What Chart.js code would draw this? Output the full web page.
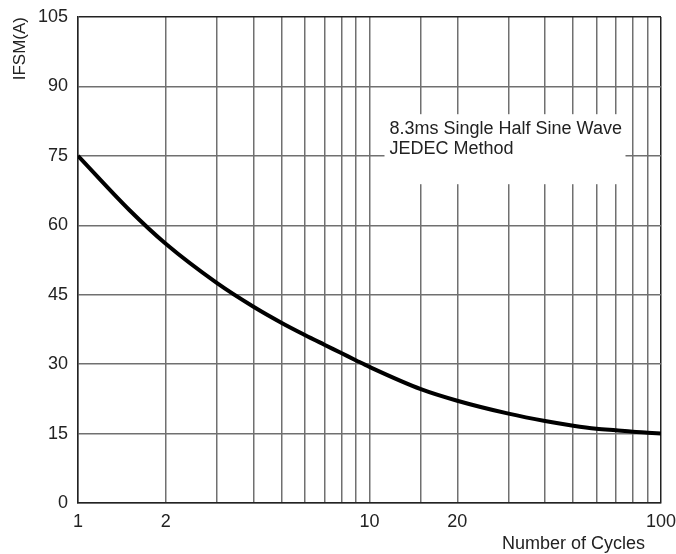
<!DOCTYPE html>
<html>
<head>
<meta charset="utf-8">
<script src="https://cdn.jsdelivr.net/npm/chart.js@4.4.1/dist/chart.umd.min.js"></script>
<style>
  html, body { margin: 0; padding: 0; background: #fff; }
  #wrap { width: 676px; height: 554px; }
</style>
</head>
<body>
<div id="wrap"><canvas id="surgeChart"></canvas></div>
<script>
// values
var cycles = [1, 1.5, 2, 3, 4, 5, 6, 7, 8, 9, 10, 15, 20, 30, 40, 50, 60, 70, 80, 90, 100];
var ifsm = [75, 63.3, 56, 47.5, 42.4, 38.9, 36.3, 34.2, 32.4, 30.8, 29.4, 24.6, 22.1, 19.3, 17.7, 16.7, 16.05, 15.7, 15.4, 15.2, 15];
var labeledCycles = [1, 2, 10, 20, 100];
var noteLines = ['8.3ms Single Half Sine Wave', 'JEDEC Method'];
var xTitle = 'Number of Cycles';

var FONT = "'Liberation Sans', Arial, sans-serif";

// white note box that breaks the grid, like on the datasheet
var notePlugin = {
    id: 'note',
    afterDatasetsDraw: function (chart) {
        var c = chart.ctx;
        var x = chart.scales.x, y = chart.scales.y;
        var left = x.getPixelForValue(10) + 15;
        var top = y.getPixelForValue(84);
        c.save();
        c.fillStyle = '#fff';
        c.fillRect(left, top, 241, 70);
        c.fillStyle = '#222';
        c.font = '18px ' + FONT;
        c.textBaseline = 'alphabetic';
        c.fillText(noteLines[0], left + 5, top + 20);
        c.fillText(noteLines[1], left + 5, top + 40);
        // x axis title sits a bit left of the frame's right edge
        c.textAlign = 'right';
        c.textBaseline = 'middle';
        c.fillText(xTitle, chart.chartArea.right - 16, chart.height - 10);
        c.restore();
    }
};

var ctx = document.getElementById('surgeChart').getContext('2d');
var surgeChart = new Chart(ctx, {
    type: 'line',
    data: {
        labels: cycles,
        datasets: [{
            label: 'IFSM',
            data: cycles.map(function (c, i) { return { x: c, y: ifsm[i] }; }),
            borderColor: '#000',
            borderWidth: 4,
            pointRadius: 0,
            cubicInterpolationMode: 'monotone',
            fill: false
        }]
    },
    options: {
        responsive: true,
        maintainAspectRatio: false,
        animation: false,
        layout: { padding: { top: 17, right: 15, left: 0, bottom: 0 } },
        plugins: {
            legend: { display: false },
            tooltip: { enabled: false }
        },
        scales: {
            x: {
                type: 'logarithmic',
                min: 1,
                max: 100,
                afterFit: function (scale) {
                    scale.height = 51;
                    scale.paddingLeft = 0;
                    scale.paddingRight = 0;
                },
                grid: {
                    drawTicks: false,
                    color: function (c) { return c.tick && c.tick.value === 100 ? '#222' : '#707070'; },
                    lineWidth: 1.5
                },
                border: { color: '#222', width: 1.5 },
                ticks: {
                    autoSkip: false,
                    maxRotation: 0,
                    padding: 8,
                    color: '#222',
                    font: { family: FONT, size: 18 },
                    callback: function (value) {
                        return labeledCycles.indexOf(value) >= 0 ? String(value) : '';
                    }
                }
            },
            y: {
                min: 0,
                max: 105,
                afterFit: function (scale) {
                    scale.width = 78;
                    scale.paddingTop = 0;
                    scale.paddingBottom = 0;
                },
                grid: {
                    drawTicks: false,
                    color: function (c) { return c.tick && c.tick.value === 105 ? '#222' : '#707070'; },
                    lineWidth: 1.5
                },
                border: { color: '#222', width: 1.5 },
                ticks: {
                    stepSize: 15,
                    padding: 10,
                    color: '#222',
                    font: { family: FONT, size: 18 }
                },
                title: {
                    display: true,
                    text: 'IFSM(A)',
                    align: 'end',
                    color: '#222',
                    font: { family: FONT, size: 17 },
                    padding: { top: 10, bottom: 0 }
                }
            }
        }
    },
    plugins: [notePlugin]
});
</script>
</body>
</html>
